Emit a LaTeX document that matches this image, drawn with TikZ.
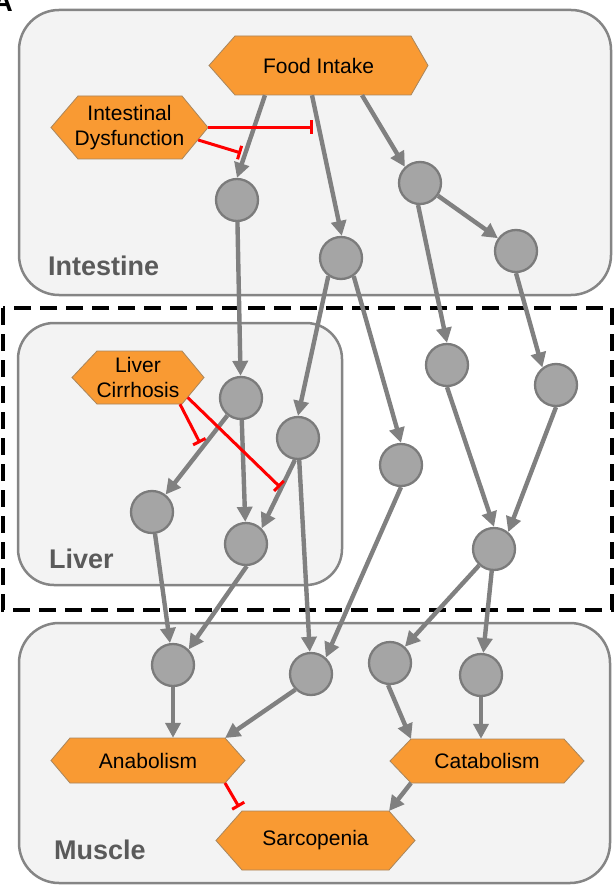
\documentclass[tikz,border=0pt]{standalone}
\usepackage{fontspec}
\setmainfont{Liberation Sans}
\usetikzlibrary{arrows.meta,calc}
\definecolor{regfill}{HTML}{F3F3F3}
\definecolor{regline}{HTML}{858585}
\definecolor{labcol}{HTML}{5A5A5A}
\definecolor{circfill}{HTML}{A5A5A5}
\definecolor{circline}{HTML}{7B7B7B}
\definecolor{arrcol}{HTML}{808080}
\definecolor{hexfill}{HTML}{F99A33}
\definecolor{hexline}{HTML}{A8865E}
\definecolor{inhred}{HTML}{FF0000}
\newcommand\hexnode[8]{%
  \filldraw[hexshape] (#2,{(#6+#7)/2}) -- (#3,#6) -- (#4,#6) -- (#5,{(#6+#7)/2}) -- (#4,#7) -- (#3,#7) -- cycle;
  \coordinate (#1-tl) at (#3,#6);
  \coordinate (#1-tr) at (#4,#6);
  \coordinate (#1-bl) at (#3,#7);
  \coordinate (#1-br) at (#4,#7);
  \node[hextext, minimum width={(#5-#2)*1pt}, minimum height={(#7-#6)*1pt}] (#1) at ({(#2+#5)/2},{(#6+#7)/2}) {#8};
}
\begin{document}
\begin{tikzpicture}[x=1pt,y=-1pt,
  region/.style={draw=regline, line width=2.5pt, fill=regfill},
  reglabel/.style={text=labcol, font=\fontsize{27}{30}\selectfont\bfseries, inner sep=0pt, anchor=base west},
  dashbox/.style={draw=black, line width=3.5pt, dash pattern=on 17pt off 9pt},
  cnode/.style={circle, draw=circline, line width=2.3pt, fill=circfill, minimum size=42pt, inner sep=0pt},
  hexshape/.style={fill=hexfill, draw=hexline, line width=0.8pt},
  hextext/.style={font=\fontsize{21}{25}\selectfont, align=center, inner sep=0pt, text=black},
  arr/.style={draw=arrcol, line width=4.4pt, -{Triangle[length=15pt,width=15pt]}},
  inh/.style={draw=inhred, line width=3pt, -{Bar[width=14pt,line width=3pt]}}]
\useasboundingbox (0,0) rectangle (614,885);
% panel letter
\node[font=\fontsize{28}{30}\selectfont\bfseries, inner sep=0pt, anchor=base east] (panel) at (13,12) {A};
% regions
\draw[region, rounded corners=40pt] (19,10) rectangle (611,295);
\draw[region, rounded corners=36pt] (18,323) rectangle (342,585);
\draw[region, rounded corners=40pt] (19,623) rectangle (610,883);
\draw[dashbox] (3,308) rectangle (612,610);
\node[reglabel] (lint) at (48,275) {Intestine};
\node[reglabel] (lliv) at (49,568) {Liver};
\node[reglabel] (lmus) at (54,859) {Muscle};
% hexagons
\hexnode{fi}{209}{235}{411}{428}{36}{95}{Food Intake}
\hexnode{id}{51}{78}{182}{208}{96}{159}{Intestinal\\Dysfunction}
\hexnode{lc}{72}{97}{182}{204}{351}{404}{Liver\\Cirrhosis}
\hexnode{an}{51}{70}{225}{245}{738}{783}{Anabolism}
\hexnode{ca}{390}{411}{564}{584}{739}{783}{Catabolism}
\hexnode{sa}{216}{242}{389}{415}{811}{870}{Sarcopenia}
% circles
\node[cnode] (c1) at (237,200) {};
\node[cnode] (c2) at (341,258) {};
\node[cnode] (c3) at (420,183) {};
\node[cnode] (c4) at (516,251) {};
\node[cnode] (c5) at (241,398) {};
\node[cnode] (c6) at (298,438) {};
\node[cnode] (c7) at (152,512) {};
\node[cnode] (c8) at (246,544) {};
\node[cnode] (c9) at (401,465) {};
\node[cnode] (c10) at (447,365) {};
\node[cnode] (c11) at (556,385) {};
\node[cnode] (c12) at (494,549) {};
\node[cnode] (m1) at (173,665) {};
\node[cnode] (m2) at (311,674) {};
\node[cnode] (m3) at (390,663) {};
\node[cnode] (m4) at (481,675) {};
% free ends of inhibitors
\coordinate (i1) at (313,127.5);
\coordinate (i2) at (241,153);
\coordinate (i3) at (200,443);
\coordinate (i4) at (280,487);
\coordinate (i5) at (239,807);
% activating connectors
\draw[arr] ($(fi.south)+(-53.5,0)$) -- (c1.north);
\draw[arr] ($(fi.south)+(-6.5,0)$) -- (c2.88);
\draw[arr] ($(fi.south)+(43.5,0)$) -- (c3.133);
\draw[arr] (c3) -- (c4);
\draw[arr] (c1) -- (c5);
\draw[arr] (c2.235) -- (c6.north);
\draw[arr] (c2.305) -- (c9.north);
\draw[arr] (c3.265) -- (c10.north);
\draw[arr] (c4.south) -- (c11.128);
\draw[arr] (c5) -- (c7);
\draw[arr] (c5) -- (c8);
\draw[arr] (c6.262) -- (c8.45);
\draw[arr] (c7) -- (m1);
\draw[arr] (c8.272) -- (m1.45);
\draw[arr] (c6) -- (m2);
\draw[arr] (c9.270) -- (m2.48);
\draw[arr] (c10.south) -- (c12.north);
\draw[arr] (c11.south) -- (c12.50);
\draw[arr] (c12) -- (m3);
\draw[arr] (c12) -- (m4);
\draw[arr] (m1.south) -- (m1 |- an.north);
\draw[arr] (m2.225) -- (an-tr);
\draw[arr] (m3.265) -- (ca-tl);
\draw[arr] (m4.south) -- (m4 |- ca.north);
\draw[arr] (ca-bl) -- (sa-tr);
% inhibiting connectors
\draw[inh] (id.east) -- (i1);
\draw[inh] ($(id.east)+(-10,12.5)$) -- (i2);
\draw[inh] ($(lc.south)+(42,0)$) -- (i3);
\draw[inh] ($(lc.east)+(-16.5,20)$) -- (i4);
\draw[inh] (an-br) -- (i5);
\end{tikzpicture}
\end{document}
